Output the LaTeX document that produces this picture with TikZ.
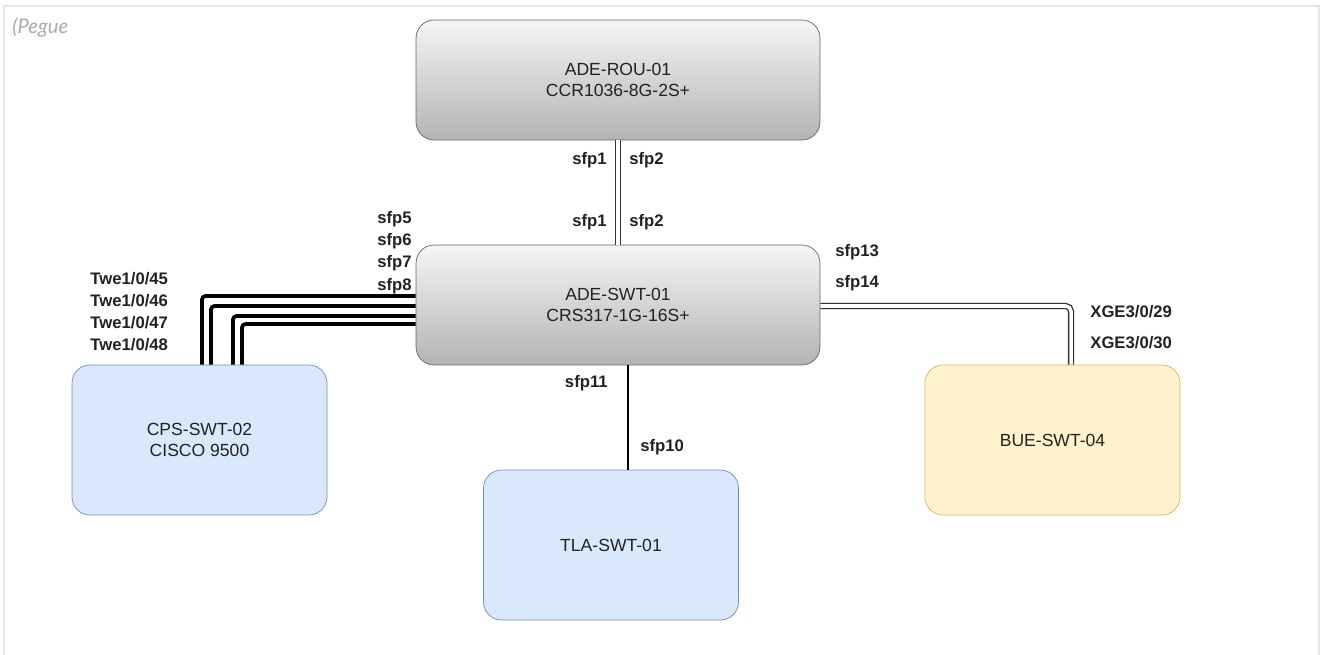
\documentclass[tikz,border=0pt]{standalone}
\usepackage{fontspec}
\setmainfont{Liberation Sans}
\newfontfamily\notefont{Lato}
\usepackage{tikz}
\usetikzlibrary{positioning}

\definecolor{boxline}{HTML}{666666}
\definecolor{grayTop}{HTML}{F5F5F5}
\definecolor{grayBot}{HTML}{B3B3B3}
\definecolor{blueFill}{HTML}{DAE8FC}
\definecolor{blueLine}{HTML}{6C8EBF}
\definecolor{yellowFill}{HTML}{FFF2CC}
\definecolor{yellowLine}{HTML}{D6B656}
\definecolor{frameGray}{HTML}{E6E6E6}
\definecolor{noteGray}{HTML}{AAAAAA}
\definecolor{textDark}{HTML}{222222}

\tikzset{
  every device/.style={rounded corners=0.36cm, align=center, inner sep=0pt,
    text=textDark, font=\fontsize{10}{12.3}\selectfont},
  core device/.style={every device, draw=boxline, top color=grayTop,
    bottom color=grayBot, minimum width=8.08cm, minimum height=2.4cm},
  blue device/.style={every device, draw=blueLine, fill=blueFill,
    minimum width=5.1cm, minimum height=3cm},
  yellow device/.style={every device, draw=yellowLine, fill=yellowFill,
    minimum width=5.1cm, minimum height=3cm},
  port/.style={font=\bfseries\fontsize{9.5}{11}\selectfont, inner sep=0pt,
    text=textDark},
  twin link/.style={draw=black!80, line width=0.75pt, double=white,
    double distance=2pt},
  trunk link/.style={draw=black, line width=2.1pt, rounded corners=2pt},
  single link/.style={draw=black, line width=1.2pt}
}

\begin{document}
\begin{tikzpicture}[x=0.02cm, y=-0.02cm]

\useasboundingbox (0,0) rectangle (1324,655);

% page frame
\draw [frameGray, line width=1.6pt] (4,655) -- (4,6) -- (1319,6) -- (1319,655);
\node [anchor=base west, inner sep=0pt, text=noteGray,
  font=\notefont\itshape\fontsize{11.5}{13}\selectfont] (note) at (12,34) {(Pegue};

% devices
\node [core device] (rou) at (618,80) {ADE-ROU-01\\CCR1036-8G-2S+};
\node [core device] (swt) at (618,305) {ADE-SWT-01\\CRS317-1G-16S+};
\node [blue device] (cps) at (199.5,440) {CPS-SWT-02\\CISCO 9500};
\node [blue device] (tla) at (611,545) {TLA-SWT-01};
\node [yellow device] (bue) at (1052.5,440) {BUE-SWT-04};

% links
\draw [twin link] (rou.south) -- (swt.north);

\draw [twin link, rounded corners=3pt] (swt.east |- 0,306) -| (bue.north -| 1071,0);

\draw [single link] (swt.south -| 628,0) -- (tla.north -| 628,0);

\foreach \yy/\xx [count=\i] in {296/202, 306/211, 316/233, 324/242}
  \draw [trunk link] (swt.west |- 0,\yy) -| (cps.north -| \xx,0);

% port labels
\node [port, anchor=east] (rou-p1) at (607,160) {sfp1};
\node [port, anchor=west] (rou-p2) at (629,160) {sfp2};
\node [port, anchor=east] (swt-p1) at (607,222) {sfp1};
\node [port, anchor=west] (swt-p2) at (629,222) {sfp2};

\foreach \l/\yy in {5/219, 6/241, 7/263.5, 8/286}
  \node [port, anchor=east] (swt-sfp\l) at (412,\yy) {sfp\l};

\foreach \l/\yy in {45/279, 46/301, 47/323, 48/345}
  \node [port, anchor=west] (cps-twe\l) at (90,\yy) {Twe1/0/\l};

\node [port, anchor=west] (swt-sfp13) at (835,252) {sfp13};
\node [port, anchor=west] (swt-sfp14) at (835,283) {sfp14};
\node [port, anchor=west] (bue-xge29) at (1090,312) {XGE3/0/29};
\node [port, anchor=west] (bue-xge30) at (1090,343) {XGE3/0/30};

\node [port, anchor=east] (swt-sfp11) at (608,383) {sfp11};
\node [port, anchor=west] (tla-sfp10) at (640,447) {sfp10};

\end{tikzpicture}
\end{document}
